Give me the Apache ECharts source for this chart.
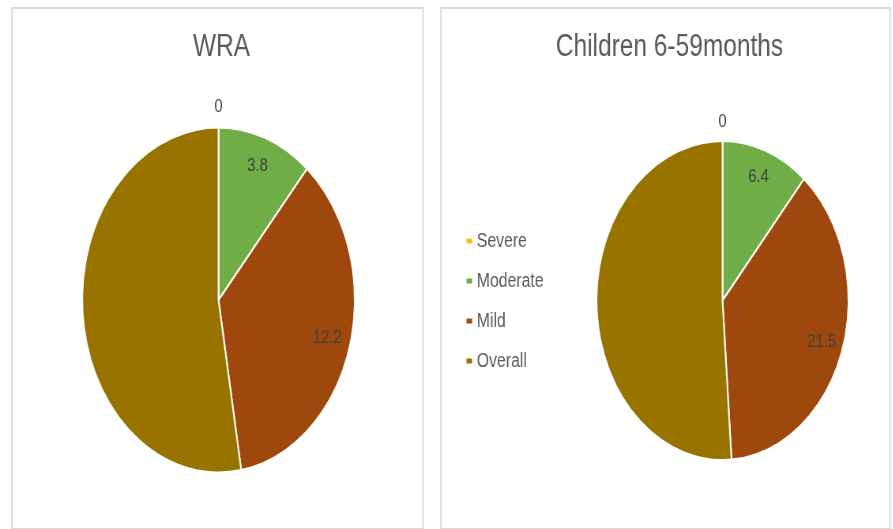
<!DOCTYPE html>
<html>
<head>
<meta charset="utf-8">
<script src="https://cdn.jsdelivr.net/npm/echarts@6/dist/echarts.min.js"></script>
<style>
  html, body { margin: 0; padding: 0; background: #ffffff; }
  #wrap { width: 893px; height: 529px; overflow: hidden; position: relative; }
  #chart { width: 1130px; height: 529px; transform: scaleX(0.79); transform-origin: 0 0; }
</style>
</head>
<body>
<div id="wrap"><div id="chart"></div></div>
<script>
// ---- data ----
const categories = ['Severe', 'Moderate', 'Mild', 'Overall'];
const colors = ['#FFC000', '#70AD47', '#9E480E', '#997300'];
const wraValues = [0, 3.8, 12.2, 17.8];
const childValues = [0, 6.4, 21.5, 29.2];
const chartTitles = ['WRA', 'Children 6-59months'];
const labelledInside = ['Moderate', 'Mild'];
const labelledOutside = ['Severe'];

// ---- layout (unscaled coordinates; page is squeezed horizontally by K) ----
const K = 0.79;
const X = v => v / K;
const pies = [
  { values: wraValues, cx: X(218.5), cy: 300, r: 172.5, titleX: X(217.5) },
  { values: childValues, cx: X(722.5), cy: 300.5, r: 159.5, titleX: X(665.5) }
];

const FONT = '"Liberation Sans", Arial, sans-serif';

function makeData(values, showSet) {
  return categories.map((name, i) => ({
    name: name,
    value: values[i],
    label: { show: showSet ? showSet.indexOf(name) >= 0 : false }
  }));
}

const labelStyle = {
  position: 'inside',
  formatter: p => String(p.value),
  color: '#404040',
  fontSize: 19,
  fontFamily: FONT
};

const series = [];
pies.forEach(p => {
  // visible pie
  series.push({
    type: 'pie',
    center: [p.cx, p.cy],
    radius: [0, p.r],
    startAngle: 90,
    clockwise: true,
    avoidLabelOverlap: false,
    label: { show: false },
    labelLine: { show: false },
    itemStyle: { borderColor: '#ffffff', borderWidth: 2 },
    emphasis: { disabled: true },
    data: makeData(p.values, null)
  });
  // inside labels (ring centred at ~0.82 r)
  series.push({
    type: 'pie',
    center: [p.cx, p.cy],
    radius: [0.62 * p.r, p.r],
    startAngle: 90,
    silent: true,
    avoidLabelOverlap: false,
    itemStyle: { color: 'rgba(0,0,0,0)', borderWidth: 0 },
    label: labelStyle,
    labelLine: { show: false },
    emphasis: { disabled: true },
    tooltip: { show: false },
    data: makeData(p.values, labelledInside)
  });
  // outside label for the zero slice
  series.push({
    type: 'pie',
    center: [p.cx, p.cy],
    radius: [1.04 * p.r, 1.16 * p.r],
    startAngle: 90,
    silent: true,
    avoidLabelOverlap: false,
    itemStyle: { color: 'rgba(0,0,0,0)', borderWidth: 0 },
    label: labelStyle,
    labelLine: { show: false },
    emphasis: { disabled: true },
    tooltip: { show: false },
    data: makeData(p.values, labelledOutside)
  });
});

const chart = echarts.init(document.getElementById('chart'));
chart.setOption({
  animation: false,
  color: colors,
  title: pies.map((p, i) => ({
    text: chartTitles[i],
    left: p.titleX,
    top: 27,
    textAlign: 'center',
    textStyle: { color: '#595959', fontSize: 31, fontWeight: 'normal', fontFamily: FONT }
  })),
  legend: {
    orient: 'vertical',
    left: X(461),
    top: 226,
    icon: 'rect',
    itemWidth: 9,
    itemHeight: 7,
    itemGap: 20,
    selectedMode: false,
    data: categories,
    textStyle: { color: '#595959', fontSize: 20, fontFamily: FONT }
  },
  graphic: [
    { type: 'rect', shape: { x: X(12), y: 8, width: X(423) - X(12), height: 521 },
      style: { fill: 'none', stroke: '#d9d9d9', lineWidth: 2 }, silent: true, z: -1 },
    { type: 'rect', shape: { x: X(441), y: 8, width: X(890) - X(441), height: 521 },
      style: { fill: 'none', stroke: '#d9d9d9', lineWidth: 2 }, silent: true, z: -1 }
  ],
  series: series
});
</script>
</body>
</html>
